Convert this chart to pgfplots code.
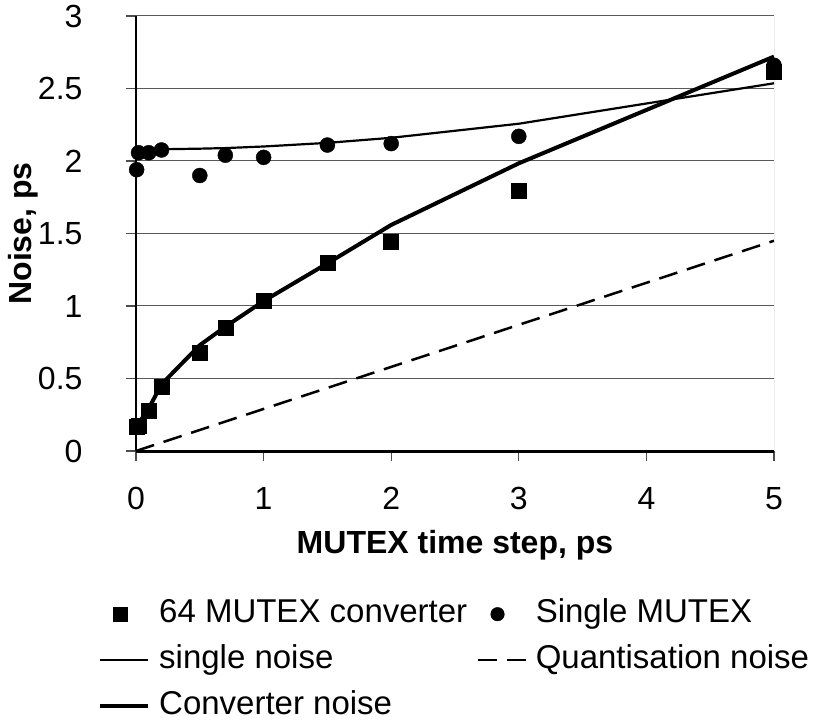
\documentclass[border=0pt]{standalone}
\usepackage{fontspec}
\setmainfont{Liberation Sans}
\usepackage{pgfplots}
\pgfplotsset{compat=1.18}
\newcommand{\ticksize}{\fontsize{32}{38}\selectfont}
\newcommand{\legsize}{\fontsize{33}{40}\selectfont}

\begin{document}
\begin{tikzpicture}
\begin{axis}[
  scale only axis,
  width=638pt, height=435pt,
  xmin=0, xmax=5, ymin=0, ymax=3,
  xtick={0,1,2,3,4,5},
  ytick={0,0.5,1,1.5,2,2.5,3},
  /pgf/number format/assume math mode=true,
  axis x line=bottom, axis y line=left,
  axis line style={black, -},
  x axis line style={line width=3pt},
  y axis line style={line width=2pt},
  tick align=outside,
  major tick length=10pt,
  tick style={black!70, line width=1.2pt},
  ymajorgrids,
  major grid style={black!65, line width=1pt},
  tick label style={font=\ticksize},
  xticklabel style={anchor=base, yshift=-48pt},
  yticklabel style={anchor=east, xshift=-40pt},
  xlabel={MUTEX time step, ps},
  ylabel={Noise, ps},
  xlabel style={at={(axis description cs:0.5,-0.2345)}, anchor=base, font=\ticksize\bfseries},
  ylabel style={at={(axis description cs:-0.1640,0.5)}, anchor=base, font=\ticksize\bfseries},
  legend columns=2,
  legend cell align=left,
  legend style={
    at={(axis description cs:-0.0643,-0.3356)}, anchor=north west,
    draw=none, fill=none, font=\legsize,
    nodes={inner xsep=9pt, inner ysep=0pt, text height=23pt, text depth=7pt},
    row sep=16pt,
    /tikz/every even column/.append style={column sep=0pt},
  },
  marklegend/.style={legend image code/.code={
    \path[draw=none, fill=none] (0pt,-10pt) rectangle (48pt,10pt);
    \draw[##1, mark size=6.8pt] plot coordinates {(20pt,0pt)};}},
  linelegend/.style={legend image code/.code={
    \path[draw=none, fill=none] (0pt,-10pt) rectangle (48pt,10pt);
    \draw[##1] (0pt,0pt) -- (48pt,0pt);}},
]

% measured noise of the 64-element converter
\addplot[only marks, mark=square*, mark size=7.5pt, black, marklegend] coordinates {
  (0.005,0.165) (0.02,0.175) (0.1,0.278) (0.2,0.443) (0.5,0.678) (0.7,0.853)
  (1,1.034) (1.5,1.299) (2,1.443) (3,1.795) (5,2.616)};
\addlegendentry{64 MUTEX converter}

% measured noise of a single element
\addplot[only marks, mark=*, mark size=7.5pt, black, marklegend] coordinates {
  (0.005,1.94) (0.02,2.057) (0.1,2.057) (0.2,2.076) (0.5,1.90) (0.7,2.04)
  (1,2.025) (1.5,2.11) (2,2.12) (3,2.17) (5,2.66)};
\addlegendentry{Single MUTEX}

% model curves
\addplot[black, line width=2.2pt, linelegend] coordinates {
  (0.005,2.080) (0.02,2.080) (0.1,2.080) (0.2,2.081) (0.5,2.085) (0.7,2.089)
  (1,2.100) (1.5,2.125) (2,2.160) (3,2.257) (5,2.536)};
\addlegendentry{single noise}

\addplot[black, line width=2.5pt, dash pattern=on 19pt off 10pt, linelegend] coordinates {
  (0,0) (0.005,0.001) (0.02,0.006) (0.1,0.029) (0.2,0.058) (0.5,0.145) (0.7,0.203)
  (1,0.29) (1.5,0.435) (2,0.58) (3,0.87) (5,1.45)};
\addlegendentry{Quantisation noise}

\addplot[black, line width=4pt, linelegend] coordinates {
  (0.005,0.16) (0.02,0.19) (0.1,0.294) (0.2,0.46) (0.5,0.73) (0.7,0.857)
  (1,1.034) (1.5,1.294) (2,1.559) (3,1.984) (5,2.72)};
\addlegendentry{Converter noise}

% right-hand frame of the plot area
\draw[black!55, line width=1pt] (axis cs:5,0) -- (axis cs:5,3);
\end{axis}
\pgfresetboundingbox
\path (-136pt,-271pt) rectangle (685pt,451pt);
\end{tikzpicture}
\end{document}
